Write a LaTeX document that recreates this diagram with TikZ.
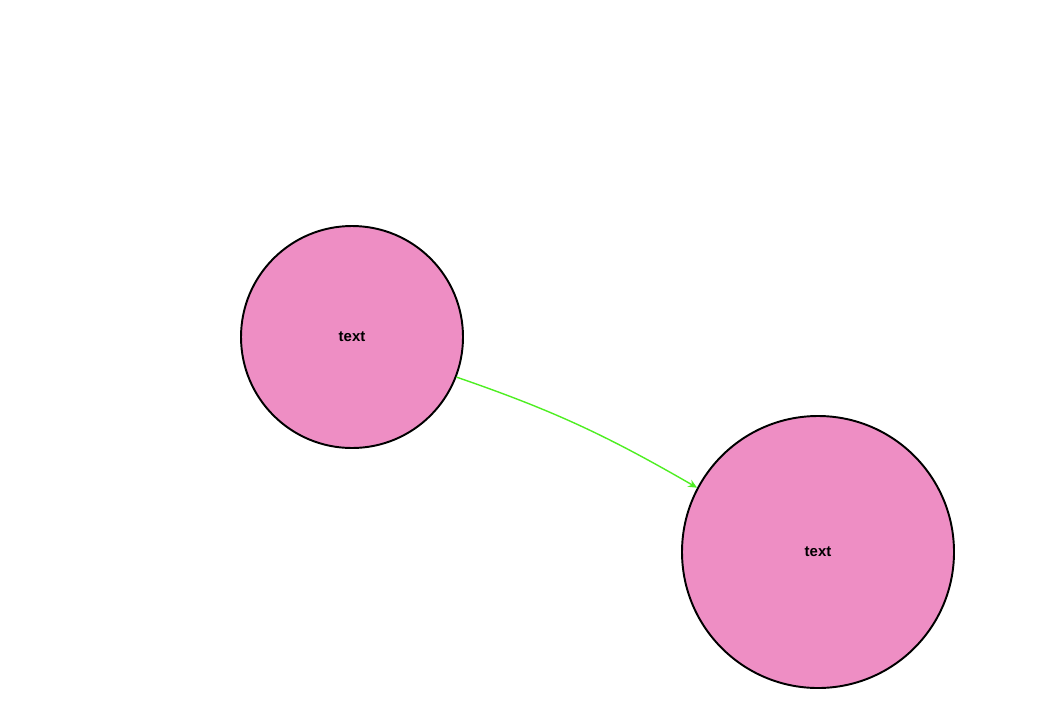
\documentclass[tikz,border=0pt]{standalone}
\usepackage{fontspec}
\setmainfont{Liberation Sans}
\definecolor{nodepink}{HTML}{EE8EC4}
\definecolor{linkgreen}{HTML}{4EEE22}
\usetikzlibrary{arrows.meta}

\begin{document}
\begin{tikzpicture}[
    bubble/.style={
      circle, draw=black, line width=1.1pt,
      fill=nodepink, inner sep=0pt,
      font=\fontsize{8.5}{10}\selectfont\bfseries
    },
    link/.style={draw=linkgreen, line width=0.8pt, -{Stealth[length=5pt,width=4.5pt]}}
  ]
    \useasboundingbox (0,0) rectangle (21.08,-14.4);

    \node[bubble, minimum size=4.44cm] (src) at (7.04,-6.74)  {text};
    \node[bubble, minimum size=5.44cm] (dst) at (16.36,-11.04) {text};

    \draw[link] (src.-21) to[out=-19,in=150] (dst.152);
  \end{tikzpicture}
\end{document}
